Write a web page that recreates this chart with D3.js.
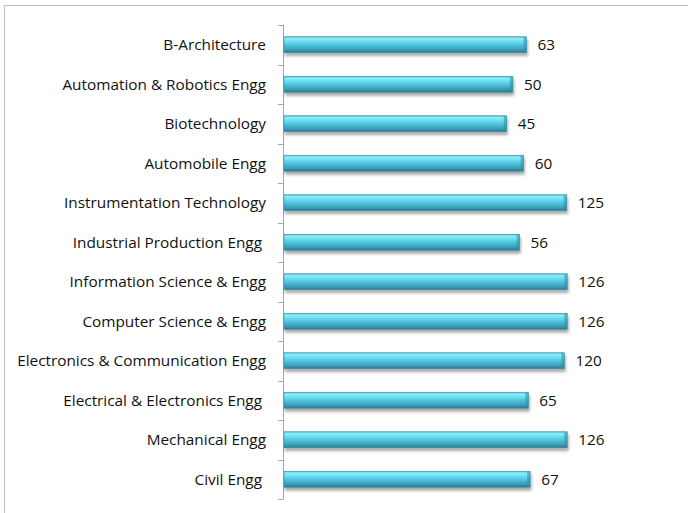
<!DOCTYPE html>
<html><head><meta charset="utf-8">
<script src="https://cdn.jsdelivr.net/npm/d3@7"></script>
<style>
html,body{margin:0;padding:0;background:#fff;}
text{font-family:"Open Sans",sans-serif;white-space:pre;}
</style></head>
<body><svg id="c" width="688" height="513"></svg>
<script>
const categories = ["B-Architecture","Automation & Robotics Engg","Biotechnology","Automobile Engg","Instrumentation Technology","Industrial Production Engg ","Information Science & Engg","Computer Science & Engg","Electronics & Communication Engg","Electrical & Electronics Engg ","Mechanical Engg","Civil Engg "];
const values = [63,50,45,60,125,56,126,126,120,65,126,67];

const svg = d3.select("#c");
const defs = svg.append("defs");
const g = defs.append("linearGradient").attr("id","bar").attr("x1",0).attr("y1",0).attr("x2",0).attr("y2",1);
[[0,"#4fb9d2"],[0.12,"#8af0fb"],[0.3,"#6fdcef"],[0.55,"#4cc0da"],[0.8,"#3c9fba"],[1,"#2e7489"]].forEach(([o,c])=>g.append("stop").attr("offset",o).attr("stop-color",c));
const sh = defs.append("filter").attr("id","sh").attr("x","-5%").attr("y","-30%").attr("width","110%").attr("height","180%");
sh.append("feGaussianBlur").attr("in","SourceAlpha").attr("stdDeviation",1.5);
sh.append("feOffset").attr("dx",1).attr("dy",2.5).attr("result","b");
sh.append("feComponentTransfer").append("feFuncA").attr("type","linear").attr("slope",0.35);
const m = sh.append("feMerge"); m.append("feMergeNode"); m.append("feMergeNode").attr("in","SourceGraphic");

svg.append("rect").attr("x",4.5).attr("y",5.5).attr("width",700).attr("height",600).attr("fill","none").attr("stroke","#c0c0c0");

const x = d3.scaleLog().domain([1,1000]).range([283,689]);
const yb = d3.scaleBand().domain(categories).range([25,499]);

svg.append("line").attr("x1",283.5).attr("x2",283.5).attr("y1",25).attr("y2",499).attr("stroke","#a6a6a6");
const ticks = categories.map(c=>yb(c)).concat([499]);
svg.selectAll(".tk").data(ticks).join("line").attr("x1",278).attr("x2",283.5)
  .attr("y1",d=>Math.round(d)+0.5).attr("y2",d=>Math.round(d)+0.5).attr("stroke","#a6a6a6");

const bh = 16;
const gb = svg.append("g");
gb.selectAll("rect.b").data(values).join("rect").attr("class","b")
  .attr("x",x(1)+1).attr("y",(d,i)=>yb(categories[i])+yb.bandwidth()/2-bh/2)
  .attr("width",d=>x(d)-x(1)-1).attr("height",bh).attr("fill","url(#bar)")
  .attr("stroke","#3e8ea6").attr("stroke-width",0.6).attr("filter","url(#sh)");
gb.selectAll("rect.e").data(values).join("rect").attr("class","e")
  .attr("x",d=>x(d)-3).attr("y",(d,i)=>yb(categories[i])+yb.bandwidth()/2-bh/2+0.5)
  .attr("width",3).attr("height",bh-1).attr("fill","#2f8aa3").attr("opacity",0.55);

const labels = svg.selectAll("text.l").data(categories).join("text").attr("class","l")
  .attr("x",266).attr("y",d=>yb(d)+yb.bandwidth()/2).attr("dy","0.36em")
  .attr("text-anchor","end").attr("font-size",14).attr("fill","#111").text(d=>d);
// fit font size so the longest label spans like the reference
const longest = labels.filter(d=>d==="Electronics & Communication Engg").node().getComputedTextLength();
const fs = 14*249/longest;
labels.attr("font-size",fs);
svg.selectAll("text.v").data(values).join("text").attr("class","v")
  .attr("x",d=>x(d)+11).attr("y",(d,i)=>yb(categories[i])+yb.bandwidth()/2).attr("dy","0.36em")
  .attr("font-size",fs).attr("fill","#111").text(d=>d);
</script></body></html>
